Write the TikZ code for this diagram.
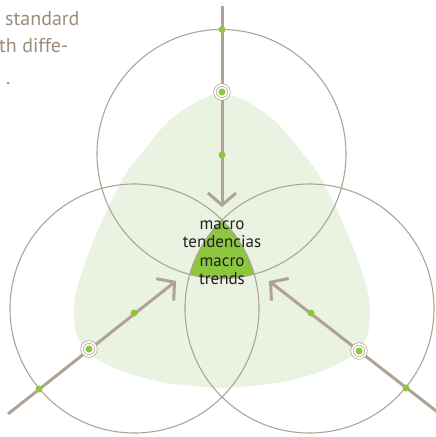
\documentclass[tikz,border=0pt]{standalone}
\usepackage{fontspec}
\usepackage{tikz}
\usetikzlibrary{arrows.meta}
\newfontfamily\ptsans{PT Sans}
\definecolor{taupe}{HTML}{B0A396}
\definecolor{paleGreen}{HTML}{EAF3E1}
\definecolor{leafGreen}{HTML}{8DC63F}
\definecolor{inkGray}{HTML}{231F20}
\definecolor{noteGray}{HTML}{9A8C7C}

\begin{document}
\begin{tikzpicture}[x=1pt,y=-1pt,
  ring/.style={circle,draw=taupe,line width=1.1pt,inner sep=0pt,outer sep=0pt,minimum size=249pt},
  shaft/.style={draw=taupe,line width=3pt,-{Straight Barb[length=12pt,width=28pt]}},
  dot/.style={circle,fill=leafGreen,inner sep=0pt,minimum size=7pt},
  target/.style={circle,draw=taupe,line width=.7pt,double=white,double distance=1.8pt,fill=white,inner sep=0pt,minimum size=14pt},
  note/.style={anchor=base west,inner sep=0pt,text=noteGray,font=\ptsans\fontsize{20}{27}\selectfont}]
\useasboundingbox (0,0) rectangle (436,437);

% soft background shape
\fill[paleGreen] plot[smooth cycle] coordinates {(222,93) (246,101) (275,121) (300,150) (322,180) (349,237) (366,285) (370,310) (367,336) (352,356) (322,371) (283,382) (240,387) (222,388) (204,387) (161,382) (122,371) (92,356) (77,336) (74,310) (78,285) (95,237) (122,180) (144,150) (169,121) (198,101)};

\coordinate (cT) at (221.5,154);
\coordinate (cL) at (134.5,308.5);
\coordinate (cR) at (309.5,308.5);

% common core
\begin{scope}
\clip (cT) circle[radius=124.5pt];
\clip (cL) circle[radius=124.5pt];
\fill[leafGreen] (cR) circle[radius=124.5pt];
\end{scope}

\node[ring] (top) at (cT) {};
\node[ring] (left) at (cL) {};
\node[ring] (right) at (cR) {};

% arrows
\coordinate (t0) at (222,6);
\coordinate (t1) at (222,207);
\coordinate (l0) at (8,414);
\coordinate (l1) at (176,281);
\coordinate (r0) at (440,414);
\coordinate (r1) at (269,281);
\draw[shaft] (t0) -- (t1);
\draw[shaft] (l0) -- (l1);
\draw[shaft] (r0) -- (r1);

\node[dot] (tOut) at (222,29.5) {};
\node[target] (tRing) at (222,92) {};
\node[dot] at (tRing) {};
\node[dot] (tIn) at (222,155) {};

\node[dot] (lOut) at (39,389) {};
\node[target] (lRing) at (89,349) {};
\node[dot] at (lRing) {};
\node[dot] (lIn) at (134,313) {};

\node[dot] (rOut) at (406,388) {};
\node[target] (rRing) at (359,351) {};
\node[dot] at (rRing) {};
\node[dot] (rIn) at (311,313) {};

\node[align=center,text=inkGray,font=\ptsans\fontsize{17}{18.5}\selectfont] (core) at (222,252.5) {macro\\tendencias\\macro\\trends};

\node[note] (noteA) at (5,25) {standard};
\node[note] (noteB) at (-1,52) {th diffe-};
\node[note] (noteC) at (6,84) {.};

\end{tikzpicture}
\end{document}
